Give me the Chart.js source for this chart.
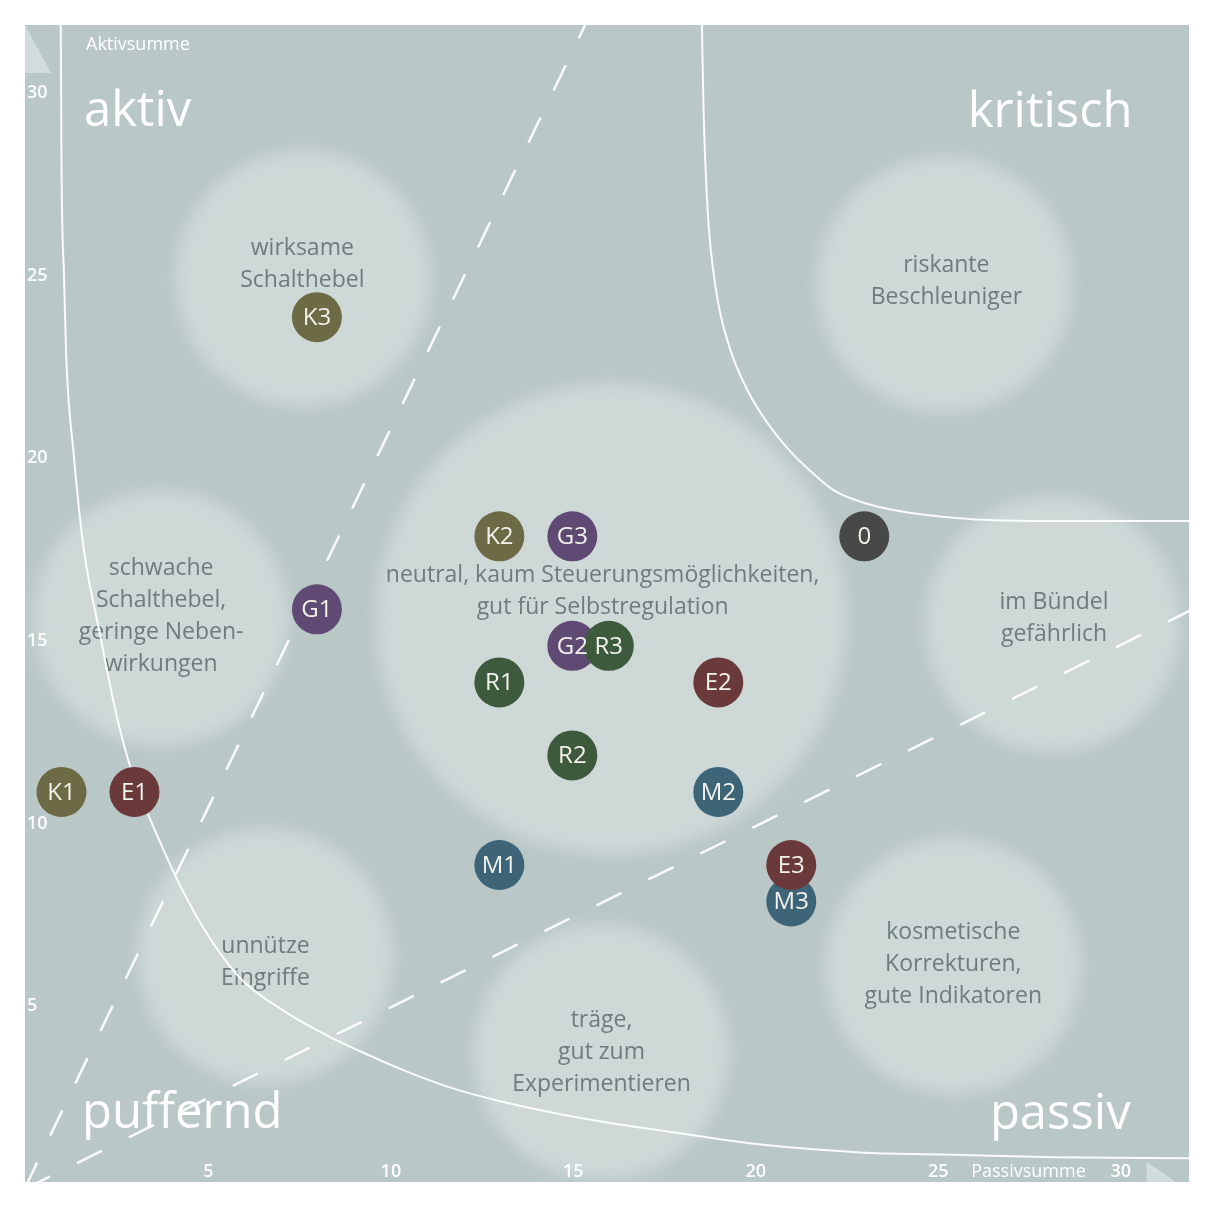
<!DOCTYPE html>
<html>
<head>
<meta charset="utf-8">
<script src="https://cdn.jsdelivr.net/npm/chart.js@4/dist/chart.umd.min.js"></script>
<style>
html,body{margin:0;padding:0;background:#fff;overflow:hidden}
canvas{display:block}
</style>
</head>
<body>
<canvas id="portfolio" width="1214" height="1207"></canvas>
<script>
// axis ticks
const xTicks = [5, 10, 15, 20, 25, 30];
const yTicks = [5, 10, 15, 20, 25, 30];

// factors: passive sum (x) / active sum (y)
const names  = ['K1','K2','K3','G1','G2','G3','R1','R2','R3','E1','E2','E3','M1','M2','M3','0'];
const passiv = [1, 13, 8,  8, 15, 15,  13, 15, 16,  3, 19, 21,  13, 19, 21,  23];
const aktiv  = [11, 18, 24, 16, 15, 18,  14, 12, 15,  11, 14, 9,  9, 11, 8,  18];

// role zones: centre, radius (axis units), caption
const zoneX    = [7.62, 25.2, 3.73, 16.07, 28.16, 6.59, 15.8, 25.44];
const zoneY    = [25.06, 24.9, 15.76, 15.74, 15.6, 6.5, 3.88, 6.23];
const zoneSpan = [3.5, 3.5, 3.5, 6.45, 3.5, 3.5, 3.5, 3.5];
const zoneTextX = [7.6, 25.25, 3.73, 15.83, 28.2, 6.59, 15.8, 25.44];
const zoneTextY = [25.45, 24.99, 15.81, 16.5, 15.76, 6.34, 3.86, 6.27];
const zoneText = [
  ['wirksame', 'Schalthebel'],
  ['riskante', 'Beschleuniger'],
  ['schwache', 'Schalthebel,', 'geringe Neben-', 'wirkungen'],
  ['neutral, kaum Steuerungsmöglichkeiten,', 'gut für Selbstregulation'],
  ['im Bündel', 'gefährlich'],
  ['unnütze', 'Eingriffe'],
  ['träge,', 'gut zum', 'Experimentieren'],
  ['kosmetische', 'Korrekturen,', 'gute Indikatoren']
];

// boundary curves
const lowCurveX = [0.98, 1.0, 1.07, 1.13, 1.33, 1.61, 2.06, 2.49, 2.89, 3.39, 3.92, 4.26, 5.0, 5.9, 7.1, 8.42, 9.14, 10.35, 11.7, 13.2, 15.3, 17.7, 20.3, 22.9, 25.1, 28.2, 32];
const lowCurveY = [32, 28.2, 25.1, 22.9, 20.3, 17.66, 15.29, 13.18, 11.67, 10.35, 9.14, 8.42, 7.1, 5.9, 5.0, 4.26, 3.92, 3.39, 2.89, 2.49, 2.06, 1.69, 1.33, 1.13, 1.07, 1.0, 0.97];
const highCurveX = [18.55, 18.6, 18.71, 18.93, 19.3, 19.8, 20.35, 20.94, 21.6, 22.18, 23.05, 24.64, 27.55, 32];
const highCurveY = [32, 29.54, 26.9, 24.79, 23.2, 22.0, 21.1, 20.36, 19.72, 19.25, 18.9, 18.59, 18.42, 18.42];
const steepLineX = [0, 15.35];
const steepLineY = [0.16, 32];
const flatLineX = [0, 32];
const flatLineY = [0.13, 16.0];

const groupColors = { K: '#6d6b45', G: '#5e4a72', R: '#3e5a3c', E: '#6a3939', M: '#3e6478', '0': '#474848' };
const groupOrder  = { E: 0, M: 1, R: 2, G: 3, K: 4, '0': 4 };

const bg = '#bac7c7';
const zoneFill = '#cdd8d7';
const FONT = '"Open Sans", "Noto Sans", sans-serif';

const pts = (xs, ys) => xs.map((x, i) => ({ x, y: ys[i] }));

const markerSets = Object.keys(groupColors).map(g => {
  const data = [];
  names.forEach((n, i) => { if (n[0] === g) data.push({ x: passiv[i], y: aktiv[i], name: n }); });
  return {
    label: g, data, order: groupOrder[g],
    pointRadius: 25, pointHoverRadius: 25, pointBorderWidth: 0,
    pointBackgroundColor: groupColors[g], borderColor: groupColors[g]
  };
});

const lineSets = [
  { label: 'low', data: pts(lowCurveX, lowCurveY), cubicInterpolationMode: 'monotone', borderWidth: 2 },
  { label: 'high', data: pts(highCurveX, highCurveY), cubicInterpolationMode: 'monotone', borderWidth: 2 },
  { label: 'steep', data: pts(steepLineX, steepLineY), borderDash: [28, 30], borderWidth: 2.5 },
  { label: 'flat', data: pts(flatLineX, flatLineY), borderDash: [28, 30], borderWidth: 2.5 }
].map(d => Object.assign({ showLine: true, pointRadius: 0, borderColor: 'rgba(255,255,255,0.92)', order: 8 }, d));

const zoneSet = {
  label: 'zones', order: 10,
  data: pts(zoneX, zoneY),
  pointBackgroundColor: zoneFill, pointBorderWidth: 0, borderColor: zoneFill,
  pointRadius: c => {
    const s = c.chart.scales.x;
    return s.getPixelForValue(zoneSpan[c.dataIndex]) - s.getPixelForValue(0);
  }
};

const chartBg = {
  id: 'chartBg',
  beforeDraw(chart) {
    const { ctx, chartArea: a } = chart;
    ctx.save();
    ctx.fillStyle = bg;
    ctx.fillRect(a.left, a.top, a.right - a.left, a.bottom - a.top);
    ctx.restore();
  }
};

// arrow heads at the axis ends (under everything)
const axisArrows = {
  id: 'axisArrows',
  beforeDatasetsDraw(chart) {
    const { ctx, chartArea: a, scales: { x, y } } = chart;
    const x0 = x.getPixelForValue(0), y0 = y.getPixelForValue(0);
    const xEnd = x.getPixelForValue(32), yEnd = y.getPixelForValue(32);
    ctx.save();
    ctx.beginPath();
    ctx.rect(a.left, a.top, a.right - a.left, a.bottom - a.top);
    ctx.clip();
    ctx.fillStyle = '#d2dcdc';
    ctx.beginPath();
    ctx.moveTo(x0, yEnd); ctx.lineTo(x0 + 26, yEnd + 48); ctx.lineTo(x0 - 26, yEnd + 48);
    ctx.closePath(); ctx.fill();
    ctx.beginPath();
    ctx.moveTo(xEnd, y0); ctx.lineTo(xEnd - 46, y0 - 32); ctx.lineTo(xEnd - 46, y0 + 32);
    ctx.closePath(); ctx.fill();
    ctx.restore();
  }
};

// zone discs are blurred; captions and names go on top of all marks
const labels = {
  id: 'labels',
  beforeDatasetDraw(chart, args) {
    if (args.meta.label !== 'zones') return;
    chart.ctx.save();
    chart.ctx.filter = 'blur(8px)';
  },
  afterDatasetDraw(chart, args) {
    if (args.meta.label !== 'zones') return;
    const { ctx, scales: { x, y } } = chart;
    ctx.restore();
    ctx.save();
    ctx.fillStyle = '#6e7c7c';
    ctx.font = '23px ' + FONT;
    ctx.textAlign = 'center';
    ctx.textBaseline = 'middle';
    zoneText.forEach((lines, i) => {
      const cx = x.getPixelForValue(zoneTextX[i]);
      const cy = y.getPixelForValue(zoneTextY[i]);
      lines.forEach((t, j) => ctx.fillText(t, cx, cy + (j - (lines.length - 1) / 2) * 32));
    });
    ctx.restore();
  },
  afterDatasetsDraw(chart) {
    const { ctx, scales: { x, y } } = chart;
    const x0 = x.getPixelForValue(0), y0 = y.getPixelForValue(0);
    const xEnd = x.getPixelForValue(32), yEnd = y.getPixelForValue(32);
    ctx.save();
    ctx.textAlign = 'center';
    ctx.textBaseline = 'middle';
    ctx.fillStyle = '#f2f2ec';
    ctx.font = '24px ' + FONT;
    chart.getSortedVisibleDatasetMetas().forEach(meta => {
      if (!(meta.label in groupColors)) return;
      meta.data.forEach((el, i) => {
        ctx.fillText(chart.data.datasets[meta.index].data[i].name, el.x, el.y + 1);
      });
    });

    ctx.fillStyle = '#ffffff';
    ctx.font = '600 18px ' + FONT;
    ctx.textAlign = 'left';
    yTicks.forEach(v => ctx.fillText(String(v), x0 + 2, y.getPixelForValue(v) - 5));
    ctx.textAlign = 'center';
    xTicks.forEach(v => ctx.fillText(String(v), x.getPixelForValue(v) + 1, y0 - 22));
    ctx.font = '18px ' + FONT;
    ctx.fillText('Passivsumme', (x.getPixelForValue(25) + x.getPixelForValue(30)) / 2, y0 - 22);
    ctx.textAlign = 'left';
    ctx.fillText('Aktivsumme', x0 + 61, yEnd + 20);

    ctx.font = '49px ' + FONT;
    ctx.textBaseline = 'alphabetic';
    ctx.fillText('aktiv', x0 + 59, yEnd + 101);
    ctx.fillText('puffernd', x0 + 57, y0 - 66);
    ctx.textAlign = 'right';
    ctx.fillText('kritisch', xEnd - 60, yEnd + 102);
    ctx.fillText('passiv', xEnd - 62, y0 - 65);
    ctx.restore();
  }
};

// the axes run from 0 to 32; the canvas shows slightly less on the right and at the bottom
new Chart(document.getElementById('portfolio'), {
  type: 'scatter',
  data: { datasets: [...markerSets, ...lineSets, zoneSet] },
  options: {
    responsive: false,
    devicePixelRatio: 1,
    animation: false,
    events: [],
    layout: { padding: { left: 9, top: 7, right: 0, bottom: 0 } },
    plugins: { legend: { display: false }, tooltip: { enabled: false } },
    scales: {
      x: { type: 'linear', min: 0, max: 31.9, display: false },
      y: { type: 'linear', min: 0.32, max: 32, display: false }
    }
  },
  plugins: [chartBg, axisArrows, labels]
});
</script>
</body>
</html>
